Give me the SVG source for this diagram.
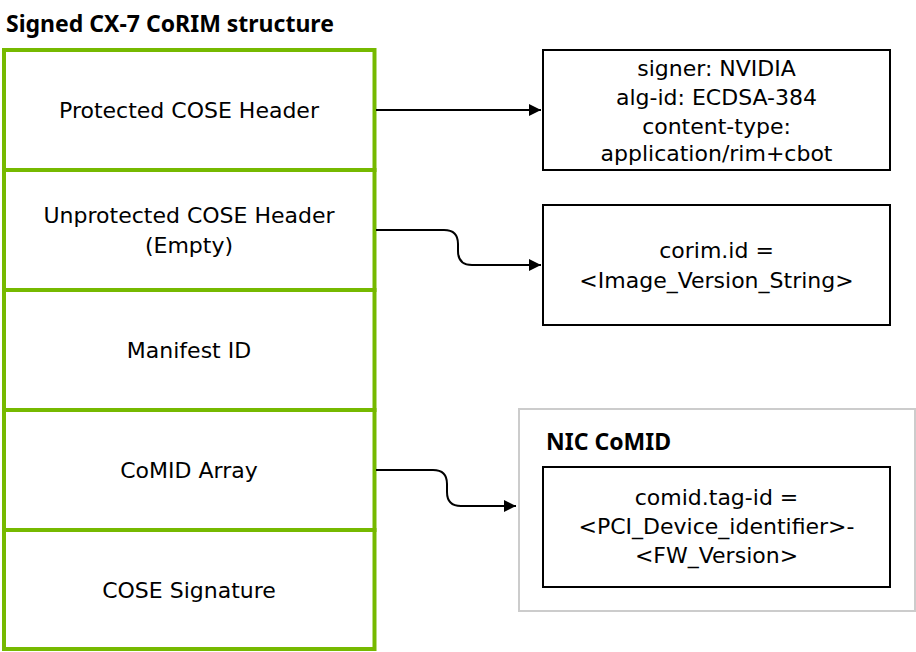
<svg xmlns="http://www.w3.org/2000/svg" width="916" height="652" viewBox="0 0 916 652">
<style>
.t{font-family:"DejaVu Sans","Liberation Sans",sans-serif;font-size:22px;fill:#000;text-anchor:middle}
.b{font-family:"Noto Sans","Liberation Sans",sans-serif;font-size:23px;font-weight:bold;fill:#000}
.g{fill:#fff;stroke:#76b900;stroke-width:4}
.k{fill:#fff;stroke:#000;stroke-width:2}
.c{fill:none;stroke:#000;stroke-width:2}
</style>
<defs>
<marker id="ah" viewBox="0 0 10 10" refX="10" refY="5" markerWidth="12" markerHeight="12" markerUnits="userSpaceOnUse" orient="auto">
<path d="M0,0 L10,5 L0,10 z" fill="#000"/>
</marker>
</defs>
<text class="b" x="6" y="32">Signed CX-7 CoRIM structure</text>
<g id="protected"><rect class="g" x="4" y="50" width="370.5" height="120"/><text class="t" x="189" y="118">Protected COSE Header</text></g>
<g id="unprotected"><rect class="g" x="4" y="170" width="370.5" height="120"/><text class="t" x="189" y="223">Unprotected COSE Header</text><text class="t" x="189" y="253">(Empty)</text></g>
<g id="manifest"><rect class="g" x="4" y="290" width="370.5" height="120"/><text class="t" x="189" y="358">Manifest ID</text></g>
<g id="comidarray"><rect class="g" x="4" y="410" width="370.5" height="120"/><text class="t" x="189" y="478">CoMID Array</text></g>
<g id="signature"><rect class="g" x="4" y="530" width="370.5" height="119"/><text class="t" x="189" y="598">COSE Signature</text></g>
<g id="headerinfo"><rect class="k" x="543" y="50" width="347" height="120"/>
<text class="t" x="716.5" y="76">signer: NVIDIA</text>
<text class="t" x="716.5" y="105">alg-id: ECDSA-384</text>
<text class="t" x="716.5" y="134">content-type:</text>
<text class="t" x="716.5" y="161">application/rim+cbot</text></g>
<g id="corimid"><rect class="k" x="543" y="205" width="347" height="120"/>
<text class="t" x="716.5" y="258">corim.id =</text>
<text class="t" x="716.5" y="288">&lt;Image_Version_String&gt;</text></g>
<g id="niccomid"><rect x="519" y="409" width="396" height="202" fill="#fff" stroke="#ccc" stroke-width="2"/>
<text class="b" x="546" y="450">NIC CoMID</text>
<rect class="k" x="543" y="467" width="347" height="120"/>
<text class="t" x="716.5" y="505">comid.tag-id =</text>
<text class="t" x="716.5" y="534">&lt;PCI_Device_identifier&gt;-</text>
<text class="t" x="716.5" y="563">&lt;FW_Version&gt;</text></g>
<g id="connectors">
<path class="c" d="M376,110 L541,110" marker-end="url(#ah)"/>
<path class="c" d="M376,230 L444,230 Q458,230 458,244 L458,251 Q458,265 472,265 L541,265" marker-end="url(#ah)"/>
<path class="c" d="M376,470 L433,470 Q447,470 447,484 L447,492 Q447,506 461,506 L516,506" marker-end="url(#ah)"/>
</g>
</svg>
